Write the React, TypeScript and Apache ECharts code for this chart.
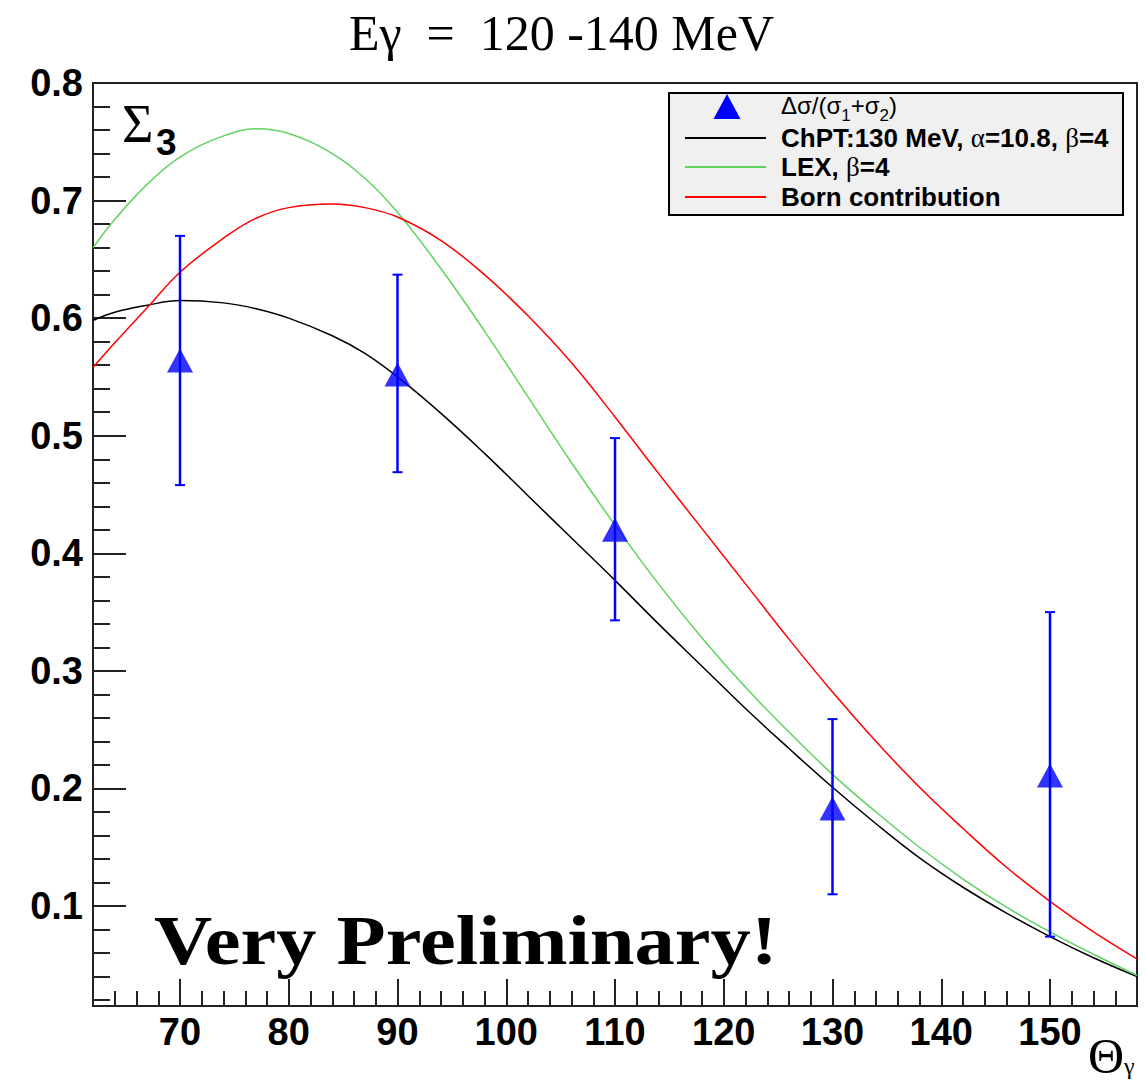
import React, { useEffect, useRef } from "react";
import * as echarts from "echarts";

// ---- data ----
const thetaGrid = [62, 64, 67, 70, 74, 77, 80, 84, 87, 90, 94, 98, 102, 106, 110, 114, 118, 122, 126, 130, 134, 138, 142, 146, 150, 154, 158];
const chptValues = [0.598, 0.605, 0.611, 0.615, 0.613, 0.608, 0.600, 0.585, 0.570, 0.550, 0.519, 0.485, 0.449, 0.413, 0.377, 0.340, 0.304, 0.268, 0.234, 0.201, 0.170, 0.141, 0.116, 0.094, 0.074, 0.056, 0.040];
const lexValues = [0.660, 0.684, 0.714, 0.737, 0.755, 0.761, 0.757, 0.740, 0.719, 0.690, 0.642, 0.589, 0.533, 0.477, 0.424, 0.374, 0.328, 0.286, 0.248, 0.212, 0.180, 0.150, 0.123, 0.099, 0.078, 0.059, 0.041];
const bornValues = [0.558, 0.579, 0.609, 0.639, 0.668, 0.685, 0.694, 0.697, 0.694, 0.686, 0.666, 0.637, 0.602, 0.562, 0.516, 0.468, 0.421, 0.374, 0.327, 0.282, 0.240, 0.201, 0.166, 0.133, 0.104, 0.078, 0.055];

const dataTheta = [70, 90, 110, 130, 150];
const dataSigma = [0.564, 0.552, 0.420, 0.183, 0.211];
const dataLow = [0.458, 0.469, 0.343, 0.110, 0.074];
const dataHigh = [0.670, 0.637, 0.498, 0.259, 0.350];

const xMajorTicks = [70, 80, 90, 100, 110, 120, 130, 140, 150];
const xMinorTicks = [64, 66, 68, 72, 74, 76, 78, 82, 84, 86, 88, 92, 94, 96, 98, 102, 104, 106, 108, 112, 114, 116, 118, 122, 124, 126, 128, 132, 134, 136, 138, 142, 144, 146, 148, 152, 154, 156];
const yMajorTicks = [0.1, 0.2, 0.3, 0.4, 0.5, 0.6, 0.7, 0.8];
const yMinorTicks = [0.02, 0.04, 0.06, 0.08, 0.12, 0.14, 0.16, 0.18, 0.22, 0.24, 0.26, 0.28, 0.32, 0.34, 0.36, 0.38, 0.42, 0.44, 0.46, 0.48, 0.52, 0.54, 0.56, 0.58, 0.62, 0.64, 0.66, 0.68, 0.72, 0.74, 0.76, 0.78];

const nameData = "Δσ/(σ1+σ2)";
const nameChpt = "ChPT:130 MeV, α=10.8, β=4";
const nameLex = "LEX, β=4";
const nameBorn = "Born contribution";

const SANS = "Liberation Sans";
const SERIF = "Liberation Serif";
const BLUE = "#0000ff";
const GREEN = "#5fd35f";
const RED = "#ff0000";

export default function App() {
  const ref = useRef<HTMLDivElement>(null);
  useEffect(() => {
    document.body.style.margin = "0";
    const chart = echarts.init(ref.current!, null, { renderer: "svg" });
    const axisColor = "#222";
    const tickLabel = { fontSize: 38, fontWeight: "bold" as const, fontFamily: SANS, color: "#000" };
    const rich = {
      n: { fontFamily: SANS, fontSize: 24, fontWeight: "normal", fill: "#000", color: "#000", lineHeight: 24, verticalAlign: "top" },
      s: { fontFamily: SANS, fontSize: 17, fontWeight: "normal", fill: "#000", color: "#000", lineHeight: 20, padding: [14, 0, 0, 0], verticalAlign: "top" },
      b: { fontFamily: SANS, fontSize: 26, fontWeight: "bold", fill: "#000", color: "#000", lineHeight: 30 },
      g: { fontFamily: SERIF, fontSize: 27, fontWeight: "normal", fill: "#000", color: "#000", lineHeight: 30 },
    };
    const legendRows = [
      { y: 105, text: "{n|Δσ/(σ}{s|1}{n|+σ}{s|2}{n|)}" },
      { y: 138, text: "{b|ChPT:130 MeV, }{g|α}{b|=10.8, }{g|β}{b|=4}", color: "#000" },
      { y: 167, text: "{b|LEX, }{g|β}{b|=4}", color: GREEN },
      { y: 197, text: "{b|" + nameBorn + "}", color: RED },
    ];
    const legendGraphics: any[] = [
      { type: "rect", z: 5, shape: { x: 669, y: 93, width: 454, height: 122 }, style: { fill: "#f0f0f0", stroke: "#000", lineWidth: 2 } },
      { type: "polygon", z: 6, shape: { points: [[713.5, 119], [740.5, 119], [727, 94]] }, style: { fill: BLUE } },
    ];
    legendRows.forEach((r, i) => {
      if (i > 0) {
        legendGraphics.push({ type: "line", z: 6, shape: { x1: 685, y1: r.y, x2: 766, y2: r.y }, style: { stroke: r.color, lineWidth: 2 } });
      }
      legendGraphics.push({ type: "text", z: 6, x: 781, y: i === 0 ? 93 : r.y - 15, style: { text: r.text, rich, textAlign: "left", textVerticalAlign: "top" } });
    });

    const option: any = {
      animation: false,
      backgroundColor: "#fff",
      grid: { left: 93, top: 83, width: 1044, height: 923, show: true, borderColor: axisColor, borderWidth: 2, backgroundColor: "transparent" },
      xAxis: [
        {
          type: "value", min: 62, max: 158, position: "bottom",
          axisLine: { show: true, onZero: false, lineStyle: { color: axisColor, width: 2 } },
          axisTick: { show: true, inside: true, length: 27, lineStyle: { color: axisColor, width: 2 }, customValues: xMajorTicks },
          axisLabel: { ...tickLabel, margin: 7, customValues: xMajorTicks },
          splitLine: { show: false },
        },
        {
          type: "value", min: 62, max: 158, position: "bottom",
          axisLine: { show: false, onZero: false },
          axisTick: { show: true, inside: true, length: 15, lineStyle: { color: axisColor, width: 2 }, customValues: xMinorTicks },
          axisLabel: { show: false },
          splitLine: { show: false },
        },
      ],
      yAxis: [
        {
          type: "value", min: 0.015, max: 0.8, position: "left",
          axisLine: { show: true, onZero: false, lineStyle: { color: axisColor, width: 2 } },
          axisTick: { show: true, inside: true, length: 33, lineStyle: { color: axisColor, width: 2 }, customValues: yMajorTicks },
          axisLabel: { ...tickLabel, margin: 10, customValues: yMajorTicks, formatter: (v: number) => v.toFixed(1) },
          splitLine: { show: false },
        },
        {
          type: "value", min: 0.015, max: 0.8, position: "left",
          axisLine: { show: false, onZero: false },
          axisTick: { show: true, inside: true, length: 17, lineStyle: { color: axisColor, width: 2 }, customValues: yMinorTicks },
          axisLabel: { show: false },
          splitLine: { show: false },
        },
      ],
      graphic: [
        ...legendGraphics,
        { type: "text", z: 20, x: 561.5, y: 32.5, style: { text: "Eγ  =  120 -140 MeV", fontFamily: SERIF, fontSize: 50, fill: "#000", textAlign: "center", textVerticalAlign: "middle" } },
        { type: "text", z: 20, x: 154, y: 940, scaleX: 1.15, style: { text: "Very Preliminary!", fontFamily: SERIF, fontWeight: "bold", fontSize: 70, fill: "#000", textAlign: "left", textVerticalAlign: "middle" } },
        { type: "text", z: 20, x: 122, y: 124, style: { text: "Σ", fontFamily: SERIF, fontSize: 54, fill: "#000", textAlign: "left", textVerticalAlign: "middle" } },
        { type: "text", z: 20, x: 156, y: 142, style: { text: "3", fontFamily: SANS, fontWeight: "bold", fontSize: 37, fill: "#000", textAlign: "left", textVerticalAlign: "middle" } },
        { type: "text", z: 20, x: 1088, y: 1056, style: { text: "Θ", fontFamily: SERIF, fontSize: 50, fill: "#000", textAlign: "left", textVerticalAlign: "middle" } },
        { type: "text", z: 20, x: 1124, y: 1066, style: { text: "γ", fontFamily: SERIF, fontSize: 24, fill: "#000", textAlign: "left", textVerticalAlign: "middle" } },
      ],
      series: [
        {
          name: nameChpt, type: "line", symbol: "none", z: 2, smooth: 0.4,
          lineStyle: { color: "#000", width: 1.5 }, itemStyle: { color: "#000" },
          data: thetaGrid.map((t, i) => [t, chptValues[i]]),
        },
        {
          name: nameLex, type: "line", symbol: "none", z: 2, smooth: 0.4,
          lineStyle: { color: GREEN, width: 1.5 }, itemStyle: { color: GREEN },
          data: thetaGrid.map((t, i) => [t, lexValues[i]]),
        },
        {
          name: nameBorn, type: "line", symbol: "none", z: 2, smooth: 0.4,
          lineStyle: { color: RED, width: 1.5 }, itemStyle: { color: RED },
          data: thetaGrid.map((t, i) => [t, bornValues[i]]),
        },
        {
          name: "errors", type: "custom", z: 3,
          renderItem: (params: any, api: any) => {
            const x = api.value(0);
            const lo = api.coord([x, api.value(1)]);
            const hi = api.coord([x, api.value(2)]);
            const cap = 5;
            return {
              type: "group",
              children: [
                { type: "line", shape: { x1: lo[0], y1: lo[1], x2: hi[0], y2: hi[1] }, style: { stroke: BLUE, lineWidth: 2.5 } },
                { type: "line", shape: { x1: lo[0] - cap, y1: lo[1], x2: lo[0] + cap, y2: lo[1] }, style: { stroke: BLUE, lineWidth: 2 } },
                { type: "line", shape: { x1: hi[0] - cap, y1: hi[1], x2: hi[0] + cap, y2: hi[1] }, style: { stroke: BLUE, lineWidth: 2 } },
              ],
            };
          },
          encode: { x: 0, y: [1, 2] },
          data: dataTheta.map((t, i) => [t, dataLow[i], dataHigh[i]]),
        },
        {
          name: nameData, type: "scatter", symbol: "triangle", symbolSize: [26, 24], z: 4,
          itemStyle: { color: BLUE },
          data: dataTheta.map((t, i) => [t, dataSigma[i]]),
        },
      ],
    };
    chart.setOption(option);
    return () => chart.dispose();
  }, []);
  return <div ref={ref} style={{ width: 1146, height: 1086 }} />;
}
